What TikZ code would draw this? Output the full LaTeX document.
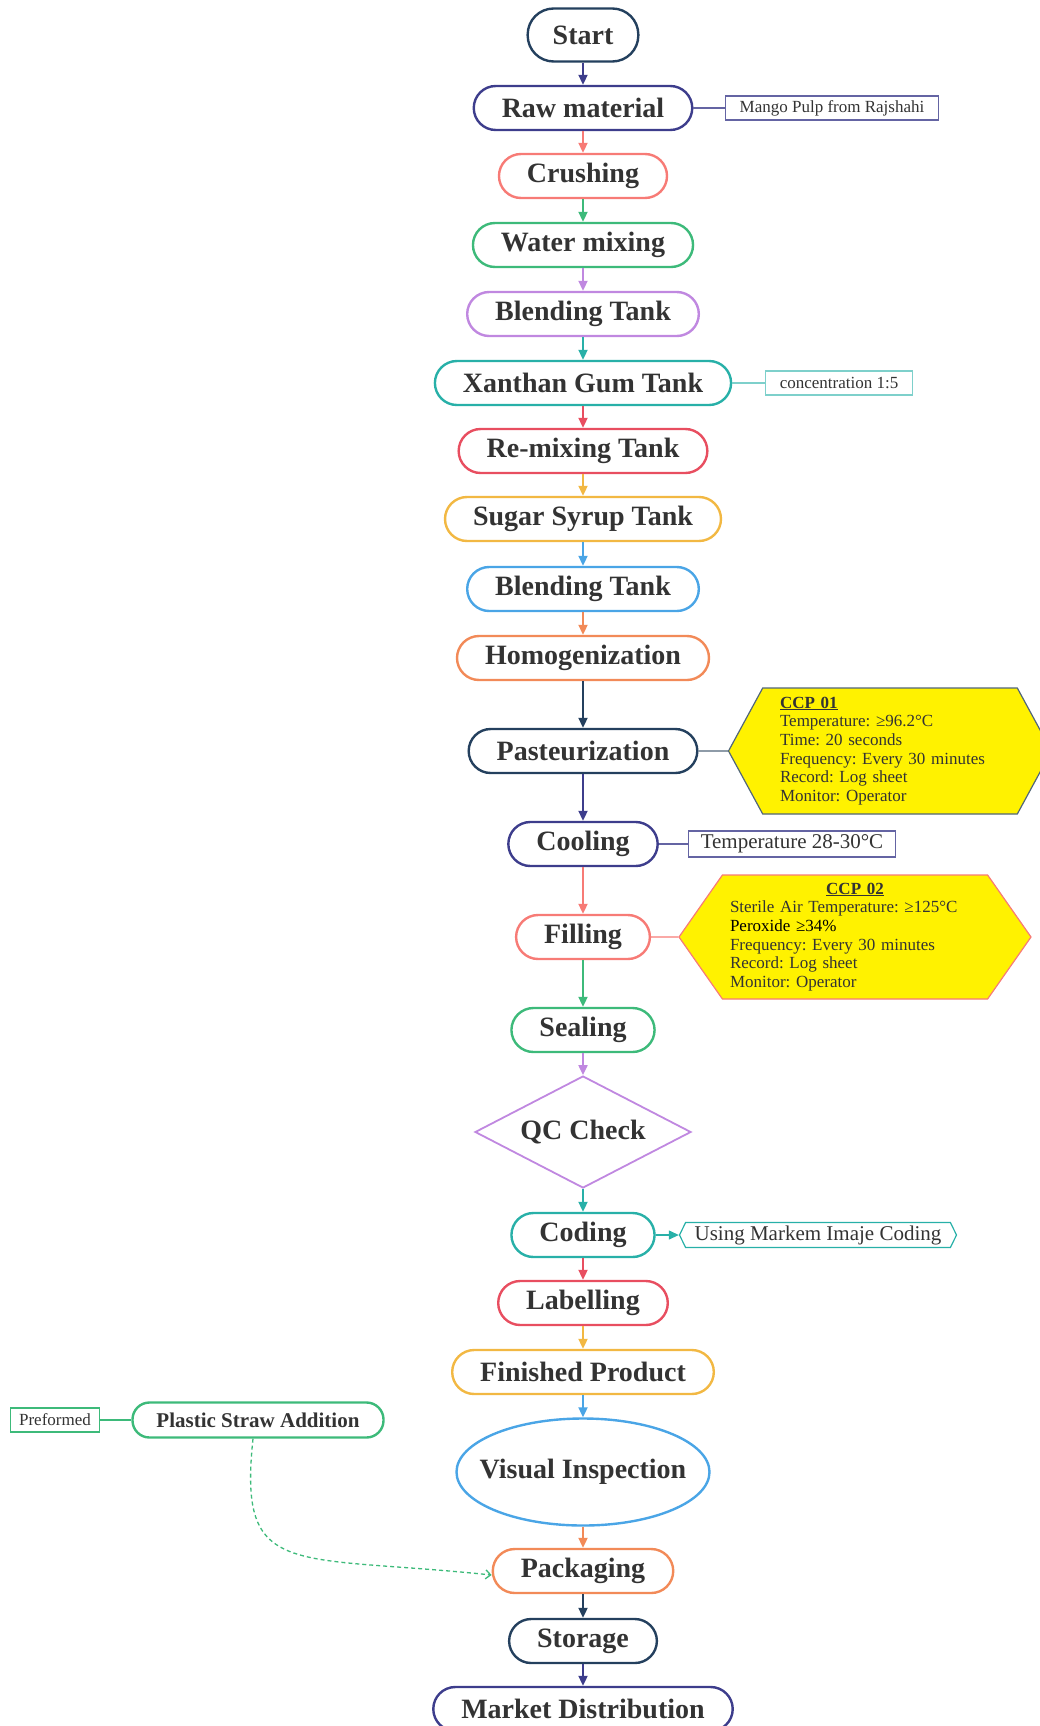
\documentclass[tikz,border=0pt]{standalone}
\usepackage{fontspec}
\setmainfont{Liberation Serif}
\frenchspacing
\usetikzlibrary{shapes.geometric,shapes.symbols,arrows.meta,positioning}

\definecolor{cNavy}{HTML}{24405E}
\definecolor{cIndigo}{HTML}{3D3D8C}
\definecolor{cSalmon}{HTML}{F77B76}
\definecolor{cGreen}{HTML}{3DBA7A}
\definecolor{cPurple}{HTML}{C088E0}
\definecolor{cTeal}{HTML}{28B0A8}
\definecolor{cRed}{HTML}{E84E60}
\definecolor{cAmber}{HTML}{F2B843}
\definecolor{cBlue}{HTML}{4AA5E6}
\definecolor{cOrange}{HTML}{F28A58}
\definecolor{cText}{HTML}{333333}
\definecolor{cSlate}{HTML}{51667A}

\begin{document}
\begin{tikzpicture}[x=1pt, y=-1pt,
        stepbox/.style={rectangle, draw, line width=2.4pt, rounded corners=22pt, minimum height=44pt, inner xsep=28pt, inner ysep=0pt, text=cText, font=\fontsize{28}{30}\selectfont\bfseries},
        notebox/.style={rectangle, draw, line width=1.2pt, minimum height=24pt, inner xsep=14pt, inner ysep=0pt, text=cText, font=\fontsize{17}{19}\selectfont},
        ccpbox/.style={signal, signal to=west and east, draw, line width=1.2pt, fill=yellow, inner sep=0pt, align=left, text=cText, font=\fontsize{17}{18.7}\selectfont},
        arrow/.style={-{Triangle[length=10pt, width=9pt]}, line width=2pt},
        link/.style={line width=1.2pt}]

        \useasboundingbox (0,0) rectangle (1040,1726);

        % Main process column
        \node[stepbox, draw=cNavy, minimum height=53pt, rounded corners=26pt, inner xsep=25pt] (start) at (583, 35) {Start};
        \node[stepbox, draw=cIndigo] (raw) at (583, 108) {Raw material};
        \node[stepbox, draw=cSalmon] (crush) at (583, 176) {Crushing};
        \node[stepbox, draw=cGreen] (water) at (583, 245) {Water mixing};
        \node[stepbox, draw=cPurple] (blendA) at (583, 314) {Blending Tank};
        \node[stepbox, draw=cTeal] (xanthan) at (583, 383) {Xanthan Gum Tank};
        \node[stepbox, draw=cRed] (remix) at (583, 451) {Re-mixing Tank};
        \node[stepbox, draw=cAmber] (sugar) at (583, 519) {Sugar Syrup Tank};
        \node[stepbox, draw=cBlue] (blendB) at (583, 589) {Blending Tank};
        \node[stepbox, draw=cOrange] (homog) at (583, 658) {Homogenization};
        \node[stepbox, draw=cNavy] (pasteur) at (583, 751) {Pasteurization};
        \node[stepbox, draw=cIndigo] (cool) at (583, 844) {Cooling};
        \node[stepbox, draw=cSalmon] (fill) at (583, 937) {Filling};
        \node[stepbox, draw=cGreen] (seal) at (583, 1030) {Sealing};
        \node[diamond, draw=cPurple, line width=1.8pt, aspect=1.93, minimum width=216pt, minimum height=112pt, inner sep=0pt, text=cText, font=\fontsize{28}{30}\selectfont\bfseries] (qc) at (583, 1132) {\makebox[0pt]{QC Check}};
        \node[stepbox, draw=cTeal] (coding) at (583, 1235) {Coding};
        \node[stepbox, draw=cRed] (label) at (583, 1303) {Labelling};
        \node[stepbox, draw=cAmber] (finish) at (583, 1372) {Finished Product};
        \node[ellipse, draw=cBlue, line width=2.4pt, minimum width=253pt, minimum height=107pt, inner sep=0pt, text=cText, font=\fontsize{28}{30}\selectfont\bfseries] (visual) at (583, 1472) {\makebox[0pt]{Visual Inspection}};
        \node[stepbox, draw=cOrange] (pack) at (583, 1571) {Packaging};
        \node[stepbox, draw=cNavy] (store) at (583, 1641) {Storage};
        \node[stepbox, draw=cIndigo] (market) at (583, 1709) {Market Distribution};

        \draw[arrow, cIndigo] (start) -- (raw);
        \draw[arrow, cSalmon] (raw) -- (crush);
        \draw[arrow, cGreen] (crush) -- (water);
        \draw[arrow, cPurple] (water) -- (blendA);
        \draw[arrow, cTeal] (blendA) -- (xanthan);
        \draw[arrow, cRed] (xanthan) -- (remix);
        \draw[arrow, cAmber] (remix) -- (sugar);
        \draw[arrow, cBlue] (sugar) -- (blendB);
        \draw[arrow, cOrange] (blendB) -- (homog);
        \draw[arrow, cNavy] (homog) -- (pasteur);
        \draw[arrow, cIndigo] (pasteur) -- (cool);
        \draw[arrow, cSalmon] (cool) -- (fill);
        \draw[arrow, cGreen] (fill) -- (seal);
        \draw[arrow, cPurple] (seal) -- (qc);
        \draw[arrow, cTeal] (qc) -- (coding);
        \draw[arrow, cRed] (coding) -- (label);
        \draw[arrow, cAmber] (label) -- (finish);
        \draw[arrow, cBlue] (finish) -- (visual);
        \draw[arrow, cOrange] (visual) -- (pack);
        \draw[arrow, cNavy] (pack) -- (store);
        \draw[arrow, cIndigo] (store) -- (market);

        % Side notes
        \node[notebox, draw=cIndigo!80] (mango) at (832, 108) {Mango Pulp from Rajshahi};
        \node[notebox, draw=cTeal!60] (ratio) at (839, 383) {concentration 1:5};
        \node[notebox, draw=cIndigo!80, minimum height=26pt, inner xsep=12pt, font=\fontsize{21}{23}\selectfont] (coolnote) at (792, 844) {Temperature 28-30°C};
        \node[signal, signal to=west and east, signal pointer angle=128, draw=cTeal, line width=1.2pt, minimum width=277pt, minimum height=25pt, inner sep=0pt, text=cText, font=\fontsize{21}{23}\selectfont] (ink) at (818, 1235) {Using Markem Imaje Coding};

        \draw[link, cIndigo!80] (raw) -- (mango);
        \draw[link, cTeal!60] (xanthan) -- (ratio);
        \draw[link, cIndigo!80] (cool) -- (coolnote);
        \draw[arrow, cTeal, line width=1.2pt] (coding) -- (ink);

        % Critical control points
        \node[ccpbox, draw=cSlate, signal pointer angle=123, minimum width=323pt, minimum height=126pt, text width=220pt] (ccpA) at (890, 751)
            {\underline{\textbf{CCP 01}}\\ Temperature: ≥96.2°C\\ Time: 20 seconds\\ Frequency: Every 30 minutes\\ Record: Log sheet\\ Monitor: Operator};
        \node[ccpbox, draw=cSalmon, signal pointer angle=110, minimum width=352pt, minimum height=124pt, text width=250pt] (ccpB) at (855, 937)
            {\makebox[\linewidth]{\underline{\textbf{CCP 02}}}\\ Sterile Air Temperature: ≥125°C\\ \textcolor{black}{Peroxide ≥34\%}\\ Frequency: Every 30 minutes\\ Record: Log sheet\\ Monitor: Operator};

        \draw[link, cSlate] (pasteur) -- (ccpA);
        \draw[link, cSalmon] (fill) -- (ccpB);

        % Straw branch
        \node[stepbox, draw=cGreen, minimum height=35pt, rounded corners=17pt, inner xsep=24pt, font=\fontsize{21}{23}\selectfont\bfseries] (straw) at (258, 1420) {Plastic Straw Addition};
        \node[notebox, draw=cGreen, inner xsep=9pt] (preform) at (55, 1420) {Preformed};

        \draw[link, cGreen] (preform) -- (straw);
        \draw[cGreen, line width=1.3pt, dash pattern=on 4pt off 3pt, -{Straight Barb[length=5pt, width=9pt]}]
            ([xshift=-5pt]straw.south) .. controls (238, 1580) and (290, 1554) .. ([yshift=-4pt]pack.west);
    \end{tikzpicture}
\end{document}
